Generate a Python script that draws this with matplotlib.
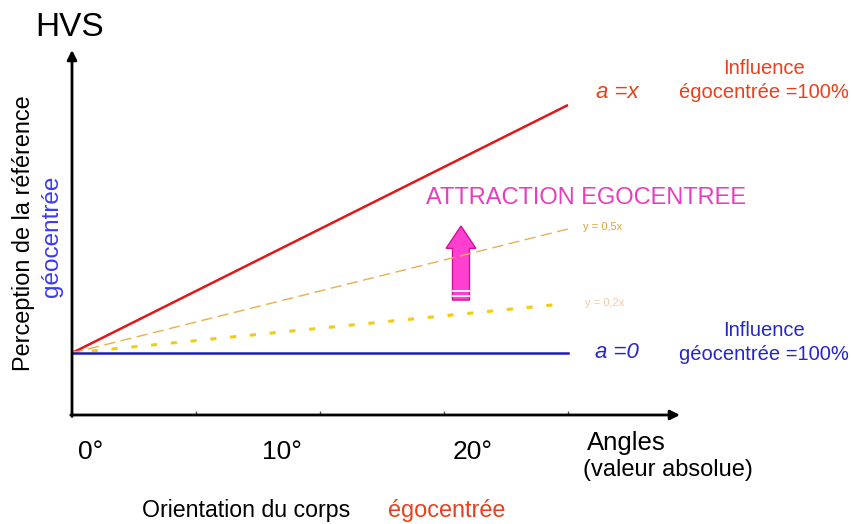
import numpy as np
import matplotlib.pyplot as plt
import matplotlib.patches as mpatches

plt.rcParams['font.family'] = ['Liberation Sans', 'DejaVu Sans']

# data (x in tick units, y in the same units)
x_pts = [0, 4]
base = 0.5
slopes = {'ego': 0.5, 'half': 0.25, 'fifth': 0.1, 'geo': 0.0}
tick_pos = [0, 1, 2, 3, 4]
angle_labels = ['0°', '10°', '20°']
angle_label_pos = [0.15, 1.69, 3.23]

fig = plt.figure(figsize=(8.52, 5.24), dpi=100)
ax = fig.add_axes([72/852, 109/524, 608/852, 365/524])
ax.set_xlim(0, 608/124)
ax.set_ylim(0, 365/124)
for s in ax.spines.values():
    s.set_visible(False)
ax.set_yticks([])
ax.set_xticks(tick_pos[1:])
ax.set_xticklabels([])
ax.tick_params(axis='x', direction='in', length=3, width=1, color='#555555')

# axes arrows
ax.annotate('', xy=(1.0, 0), xytext=(-0.002, 0), xycoords='axes fraction',
            arrowprops=dict(arrowstyle='-|>', color='black', lw=2, mutation_scale=14,
                            shrinkA=0, shrinkB=0))
ax.annotate('', xy=(0, 1.0), xytext=(0, -0.004), xycoords='axes fraction',
            arrowprops=dict(arrowstyle='-|>', color='black', lw=2, mutation_scale=14,
                            shrinkA=0, shrinkB=0))

x = np.array(x_pts, dtype=float)
ax.plot(x, base + slopes['ego'] * x, color='#E3161E', lw=1.8, solid_capstyle='butt')
ax.plot(x, base + slopes['half'] * x, color='#E6B050', lw=1.0, dashes=(8, 4))
ax.plot([0, 3.96], base + slopes['fifth'] * np.array([0, 3.96]),
        color='#F2CC10', lw=2.2, dashes=(2, 4.5))
ax.plot(x, base + slopes['geo'] * x, color='#1B1BBF', lw=1.8)

# pink arrow
ax.add_patch(mpatches.FancyArrow(3.137, 0.927, 0, 1.524 - 0.927, width=0.137, head_width=0.24,
                                 head_length=0.18, length_includes_head=True,
                                 facecolor='#FF3FCF', edgecolor='#D0109A', lw=1))
for yy in [0.96, 1.0]:
    ax.plot([3.072, 3.202], [yy, yy], color='white', lw=1.3)

# tick labels
for xp, lab in zip(angle_label_pos, angle_labels):
    ax.text(xp, -0.30, lab, fontsize=19, ha='center', va='center')

# texts
fig.text(70/852, 1 - 28/524, 'HVS', fontsize=24, ha='center', va='center')
fig.text(24/852, 1 - 233/524, 'Perception de la référence', fontsize=16.9, rotation=90,
         ha='center', va='center')
fig.text(52/852, 1 - 236/524, 'géocentrée', fontsize=17.5, rotation=90,
         ha='center', va='center', color='#3A3AF0')

fig.text(617/852, 1 - 93/524, 'a =x', fontsize=16, style='italic', ha='center', va='center',
         color='#E8401A')
fig.text(764/852, 1 - 68/524, 'Influence', fontsize=14.5, ha='center', va='center', color='#E8401A')
fig.text(764/852, 1 - 93/524, 'égocentrée =100%', fontsize=14.5, ha='center', va='center',
         color='#E8401A')

fig.text(617/852, 1 - 353/524, 'a =0', fontsize=16, style='italic', ha='center', va='center',
         color='#2626C8')
fig.text(764/852, 1 - 330/524, 'Influence', fontsize=14.5, ha='center', va='center', color='#2626C8')
fig.text(764/852, 1 - 354/524, 'géocentrée =100%', fontsize=14.5, ha='center', va='center',
         color='#2626C8')

fig.text(586/852, 1 - 198/524, 'ATTRACTION EGOCENTREE', fontsize=17, ha='center', va='center',
         color='#E83CC0')
fig.text(583/852, 1 - 227/524, 'y = 0,5x', fontsize=8, ha='left', va='center', color='#E0A030')
fig.text(585/852, 1 - 303/524, 'y = 0,2x', fontsize=8, ha='left', va='center', color='#F5C8A0')

fig.text(587/852, 1 - 443/524, 'Angles', fontsize=18.5, ha='left', va='center')
fig.text(583/852, 1 - 470/524, '(valeur absolue)', fontsize=17, ha='left', va='center')

fig.text(142/852, 1 - 511/524, 'Orientation du corps', fontsize=16.7, ha='left', va='center')
fig.text(388/852, 1 - 511/524, 'égocentrée', fontsize=16.9, ha='left', va='center', color='#E8401A')

fig.savefig('out.png', dpi=100)
